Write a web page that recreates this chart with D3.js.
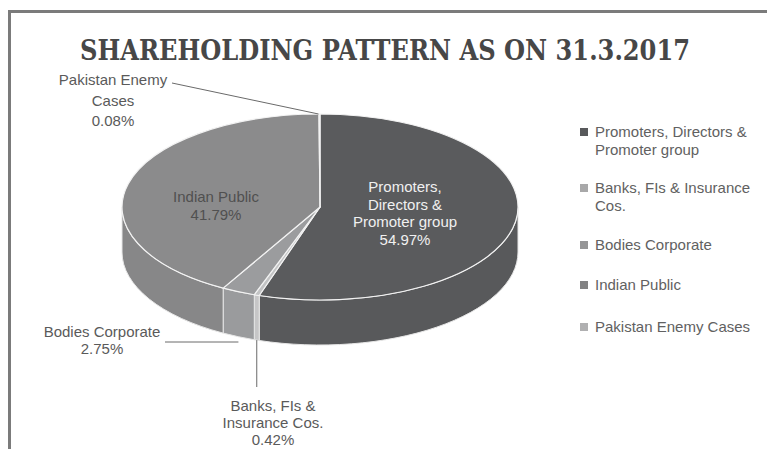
<!DOCTYPE html>
<html>
<head>
<meta charset="utf-8">
<script src="https://cdn.jsdelivr.net/npm/d3@7"></script>
<style>
  html, body { margin: 0; padding: 0; background: #fff; }
  svg { display: block; }
  .lbl { font-family: "Liberation Sans", Arial, sans-serif; font-size: 15px; fill: #5a5a5a; }
</style>
</head>
<body>
<script>
// shareholding data
var categories = [
    "Promoters, Directors & Promoter group",
    "Banks, FIs & Insurance Cos.",
    "Bodies Corporate",
    "Indian Public",
    "Pakistan Enemy Cases"
];
var shares = [54.97, 0.42, 2.75, 41.79, 0.08];
var sliceLabelLines = [
    ["Promoters,", "Directors &", "Promoter group"],
    ["Banks, FIs &", "Insurance Cos."],
    ["Bodies Corporate"],
    ["Indian Public"],
    ["Pakistan Enemy", "Cases"]
];
var legendLines = [
    ["Promoters, Directors &", "Promoter group"],
    ["Banks, FIs & Insurance", "Cos."],
    ["Bodies Corporate"],
    ["Indian Public"],
    ["Pakistan Enemy Cases"]
];
var title = "SHAREHOLDING PATTERN AS ON 31.3.2017";

var topColors = ["#5a5b5d", "#c2c3c4", "#9b9c9e", "#8b8b8c", "#a9a9aa"];
var sideColors = ["#58595b", "#c6c6c7", "#9a9b9d", "#878788", "#a9a9aa"];
var legendColors = ["#58595b", "#a8a8a9", "#959596", "#828283", "#b0b0b1"];

var width = 767, height = 449;
var svg = d3.select("body").append("svg")
    .attr("width", width)
    .attr("height", height);

// frame (runs off the right and bottom edge)
svg.append("rect")
    .attr("x", 9.5).attr("y", 11.5)
    .attr("width", 800).attr("height", 480)
    .attr("fill", "none")
    .attr("stroke", "#7b7b7b")
    .attr("stroke-width", 3);

svg.append("text")
    .attr("x", 385).attr("y", 60)
    .attr("text-anchor", "middle")
    .attr("textLength", 610)
    .attr("lengthAdjust", "spacingAndGlyphs")
    .style("font-family", "'DejaVu Serif', 'Liberation Serif', serif")
    .style("font-weight", "bold")
    .style("font-size", "27px")
    .style("fill", "#474747")
    .text(title);

var cx = 320, cy = 207, rx = 198, ry = 93, depth = 45;

function pt(a, dy) {
    return [cx + rx * Math.sin(a), cy - ry * Math.cos(a) + (dy || 0)];
}

var pie = d3.pie().sort(null).value(function (d) { return d; });
var arcs = pie(shares);

var g = svg.append("g");

// outer walls, only the front half is visible
arcs.forEach(function (d, i) {
    var s = Math.max(d.startAngle, Math.PI / 2),
        e = Math.min(d.endAngle, 3 * Math.PI / 2);
    if (e <= s) return;
    var p0 = pt(s), p1 = pt(e), p1b = pt(e, depth), p0b = pt(s, depth);
    g.append("path")
        .attr("d", "M" + p0 + "A" + rx + "," + ry + " 0 0 1 " + p1 +
            "L" + p1b + "A" + rx + "," + ry + " 0 0 0 " + p0b + "Z")
        .attr("fill", sideColors[i])
        .attr("stroke", "#e6e6e6")
        .attr("stroke-width", 1);
});

// top faces
arcs.forEach(function (d, i) {
    var p0 = pt(d.startAngle), p1 = pt(d.endAngle);
    var large = (d.endAngle - d.startAngle) > Math.PI ? 1 : 0;
    g.append("path")
        .attr("d", "M" + [cx, cy] + "L" + p0 + "A" + rx + "," + ry + " 0 " + large + " 1 " + p1 + "Z")
        .attr("fill", topColors[i])
        .attr("stroke", "#f2f2f2")
        .attr("stroke-width", 1.2)
        .attr("stroke-linejoin", "round");
});

var fmt = function (v) { return d3.format(".2f")(v) + "%"; };

function multiline(x, y, lines, anchor, color, lh) {
    var t = svg.append("text")
        .attr("class", "lbl")
        .attr("text-anchor", anchor)
        .style("fill", color);
    lines.forEach(function (l, k) {
        t.append("tspan").attr("x", x).attr("y", y + k * lh).text(l);
    });
    return t;
}

// label placement per slice: first baseline, leader line
var mid = arcs.map(function (d) { return (d.startAngle + d.endAngle) / 2; });
var labelPos = [
    { x: 405, y: 192, lh: 17.7, color: "#f0f0f0" },
    { x: 273, y: 411, lh: 17, color: "#5a5a5a" },
    { x: 102, y: 337, lh: 17, color: "#5a5a5a" },
    { x: 216, y: 202, lh: 18, color: "#505050" },
    { x: 113, y: 85, lh: 20.5, color: "#5a5a5a" }
];

arcs.forEach(function (d, i) {
    var lp = labelPos[i];
    multiline(lp.x, lp.y, sliceLabelLines[i].concat([fmt(shares[i])]), "middle", lp.color, lp.lh);
});

var leader = svg.append("g")
    .attr("stroke", "#6a6a6a")
    .attr("stroke-width", 1)
    .attr("fill", "none");

// Pakistan Enemy Cases -> top edge
var pk = pt(mid[4]);
leader.append("line").attr("x1", 172).attr("y1", 83).attr("x2", pk[0] - 1).attr("y2", pk[1]);
// Bodies Corporate -> front wall
var bc = pt(mid[2], depth);
leader.append("line").attr("x1", 165).attr("y1", 342).attr("x2", bc[0]).attr("y2", 342);
// Banks -> bottom of wall
var bk = pt(mid[1], depth);
leader.append("line").attr("x1", bk[0]).attr("y1", bk[1]).attr("x2", bk[0]).attr("y2", 387);

// legend
var legendY = [137, 193, 250, 290, 332];
var legend = svg.append("g").selectAll("g")
    .data(categories)
    .enter().append("g")
    .attr("transform", function (d, i) { return "translate(580," + legendY[i] + ")"; });

legend.append("rect")
    .attr("x", 0).attr("y", -9)
    .attr("width", 8).attr("height", 8)
    .attr("fill", function (d, i) { return legendColors[i]; });

legend.append("text")
    .attr("class", "lbl")
    .style("fill", "#616161")
    .each(function (d, i) {
        var t = d3.select(this);
        legendLines[i].forEach(function (l, k) {
            t.append("tspan").attr("x", 15).attr("y", k * 18).text(l);
        });
    });
</script>
</body>
</html>
